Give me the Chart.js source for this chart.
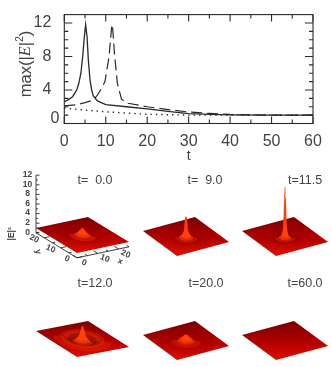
<!DOCTYPE html>
<html>
<head>
<meta charset="utf-8">
<script src="https://cdn.jsdelivr.net/npm/chart.js@4"></script>
<style>
    html, body { margin: 0; padding: 0; background: #fff; }
    canvas { position: absolute; filter: blur(0.35px); }
</style>
</head>
<body>
<canvas id="mainChart" width="332" height="165" style="left:0;top:0"></canvas>
<script>
// max(|E|^2) curves
const tSolid = [0, 1, 2, 3, 3.5, 4, 4.5, 4.8, 5.15, 5.5, 5.8, 6.2, 6.6, 7, 8, 10, 15, 20, 25, 30, 35, 40, 50, 60];
const solid = [2.6, 2.85, 3.2, 4.0, 4.8, 6.0, 8.3, 10.2, 11.8, 10.3, 7.6, 5.2, 4.0, 3.3, 2.7, 2.25, 2.0, 1.75, 1.45, 1.18, 1.08, 1.02, 1.0, 1.0];
const tDashed = [0, 3, 5, 7, 8, 9, 9.8, 10.8, 11.4, 11.6, 12.1, 12.8, 13.8, 15, 20, 25, 30, 35, 40, 50, 60];
const dashed = [2.1, 2.25, 2.5, 2.8, 3.4, 4.2, 5.0, 8.0, 11.4, 11.8, 8.4, 4.8, 2.9, 2.45, 2.0, 1.66, 1.37, 1.2, 1.08, 1.0, 1.0];
const tDotted = [0, 5, 10, 15, 20, 30, 40, 60];
const dotted = [1.85, 1.6, 1.4, 1.25, 1.1, 1.0, 1.0, 1.0];

const xTicks = [0, 10, 20, 30, 40, 50, 60];
const yTicks = [0, 4, 8, 12];

// surface snapshots: height of |E|^2 against distance from the centre of the grid
const times = ["t=  0.0", "t=  9.0", "t=11.5", "t=12.0", "t=20.0", "t=60.0"];
const radiusT0 = [10, 7, 5, 3, 2, 1.2, 0.6, 0.1];
const heightT0 = [1, 0.9, 0.85, 1.05, 1.35, 1.8, 2.2, 2.5];
const radiusT9 = [10, 6.5, 4.5, 3, 2, 1.3, 0.8, 0.6, 0.45, 0.3];
const heightT9 = [1, 0.9, 0.75, 0.85, 1.1, 1.6, 2.4, 3.5, 4.6, 5.1];
const radiusT11 = [10, 6, 4, 2.5, 1.6, 1.1, 0.8, 0.6, 0.5, 0.35, 0.15];
const heightT11 = [1, 0.9, 0.7, 0.8, 1.1, 1.8, 3, 4.8, 6.6, 9, 11.3];
const radiusT12 = [11, 8.5, 7, 5.5, 4, 3, 2, 1.4, 1, 0.6, 0.2];
const heightT12 = [1, 1.1, 1.15, 0.9, 0.6, 0.75, 1.1, 1.6, 2.2, 3, 3.7];
const radiusT20 = [12, 9, 6, 3.6, 2.6, 1.7, 1, 0.3];
const heightT20 = [1, 0.92, 0.9, 1, 1.2, 1.55, 1.95, 2.25];
const radiusT60 = [];
const heightT60 = [];

const gridTicks = [0, 10, 20];
const zTicks = [0, 2, 4, 6, 8, 10, 12];
const gridSize = 25;
const plateLevel = 1;

const ink = "#2a2a2a";
const textInk = "#444";
const pxPerZ = 4.8;

const viewA = { ux: 52, uy: 11, vx: -41, vy: 25 };
const viewA2 = { ux: 52, uy: 10, vx: -41, vy: 26 };
const viewB = { ux: 52, uy: 14, vx: -34, vy: 25 };

const panels = [
    { box: [0, 165, 140, 102], ox: 77, oy: 253, view: viewA, labelX: 95, labelY: 181, radius: radiusT0, height: heightT0, axes: true },
    { box: [140, 165, 96, 102], ox: 177, oy: 256, view: viewB, labelX: 205, labelY: 181, radius: radiusT9, height: heightT9 },
    { box: [236, 165, 96, 102], ox: 276, oy: 256, view: viewB, labelX: 305, labelY: 181, radius: radiusT11, height: heightT11 },
    { box: [0, 270, 140, 97], ox: 77, oy: 357, view: viewA2, labelX: 95, labelY: 284, radius: radiusT12, height: heightT12 },
    { box: [140, 270, 96, 97], ox: 177, oy: 360, view: viewB, labelX: 206, labelY: 284, radius: radiusT20, height: heightT20 },
    { box: [236, 270, 96, 97], ox: 276, oy: 360, view: viewB, labelX: 305, labelY: 284, radius: radiusT60, height: heightT60 }
];

function pairs(xs, ys) {
    return xs.map((x, i) => ({ x: x, y: ys[i] }));
}

// frame, inward ticks and the mixed-font y title of the top plot
const framePlugin = {
    id: "frame",
    afterDraw(chart) {
        const { ctx, chartArea: a, scales } = chart;
        ctx.save();
        ctx.strokeStyle = ink;
        ctx.lineWidth = 1.1;
        ctx.strokeRect(a.left, a.top, a.right - a.left, a.bottom - a.top);
        ctx.beginPath();
        for (let v = 0; v <= 60; v += 5) {
            const px = scales.x.getPixelForValue(v);
            const len = v % 10 === 0 ? 7 : 4;
            ctx.moveTo(px, a.bottom); ctx.lineTo(px, a.bottom - len);
            ctx.moveTo(px, a.top); ctx.lineTo(px, a.top + len);
        }
        for (let v = 1; v <= 12; v++) {
            const py = scales.y.getPixelForValue(v);
            const len = v % 4 === 0 ? 8 : 4;
            ctx.moveTo(a.left, py); ctx.lineTo(a.left + len, py);
            ctx.moveTo(a.right, py); ctx.lineTo(a.right - len, py);
        }
        ctx.stroke();

        // the zero label sits a little above the axis corner in the original
        ctx.fillStyle = textInk;
        ctx.font = "16px 'Liberation Sans'";
        ctx.textAlign = "right";
        ctx.textBaseline = "middle";
        ctx.fillText("0", a.left - 5, 118.5);

        ctx.textAlign = "center";
        ctx.font = "14px 'Liberation Sans'";
        ctx.fillText("t", scales.x.getPixelForValue(30), 156);

        ctx.translate(26, 64);
        ctx.rotate(-Math.PI / 2);
        const parts = [
            ["max(|", "16.5px 'Liberation Sans'", 0],
            ["E", "italic 16.5px 'Liberation Serif'", 0],
            ["|", "16.5px 'Liberation Sans'", 0],
            ["2", "10px 'Liberation Sans'", -6],
            [")", "16.5px 'Liberation Sans'", 0]
        ];
        let total = 0;
        parts.forEach(p => { ctx.font = p[1]; total += ctx.measureText(p[0]).width; });
        let x = -total / 2;
        ctx.textAlign = "left";
        parts.forEach(p => {
            ctx.font = p[1];
            ctx.fillText(p[0], x, p[2]);
            x += ctx.measureText(p[0]).width;
        });
        ctx.restore();
    }
};

new Chart(document.getElementById("mainChart"), {
    type: "scatter",
    data: {
        datasets: [
            { data: pairs(tSolid, solid), borderColor: ink, borderWidth: 1.3 },
            { data: pairs(tDashed, dashed), borderColor: ink, borderWidth: 1.2, borderDash: [11, 5] },
            { data: pairs(tDotted, dotted), borderColor: ink, borderWidth: 1.4, borderDash: [1.4, 4] }
        ].map(d => Object.assign(d, { showLine: true, pointRadius: 0, tension: 0, clip: false }))
    },
    options: {
        responsive: false,
        animation: false,
        layout: { padding: { top: 5, right: 19, left: 0, bottom: 0 } },
        plugins: {
            legend: { display: false },
            tooltip: { enabled: false }
        },
        scales: {
            x: {
                type: "linear",
                min: 0,
                max: 60,
                afterFit(scale) { scale.height = 41.5; },
                afterBuildTicks(scale) { scale.ticks = xTicks.map(v => ({ value: v })); },
                grid: { display: false },
                border: { display: false },
                ticks: { color: textInk, font: { family: "'Liberation Sans'", size: 16 }, padding: 0, maxRotation: 0 }
            },
            y: {
                type: "linear",
                min: 0,
                max: 13,
                afterFit(scale) { scale.width = 64.3; },
                afterBuildTicks(scale) { scale.ticks = yTicks.map(v => ({ value: v })); },
                grid: { display: false },
                border: { display: false },
                ticks: {
                    color: textInk,
                    font: { family: "'Liberation Sans'", size: 16 },
                    padding: 5,
                    callback: v => (v === 0 ? "" : String(v))
                }
            }
        }
    },
    plugins: [framePlugin]
});

// Grid position to chart values: x scale is in page pixels, y scale is in |E|^2 units
function project(panel, u, v, z) {
    const w = panel.view;
    return {
        x: panel.ox - panel.box[0] + (u * w.ux + v * w.vx) / gridSize,
        y: z + (u * w.uy + v * w.vy) / gridSize / pxPerZ
    };
}

function plateGradient(panel, ctx) {
    const bottom = panel.oy - panel.box[1];
    const top = bottom - panel.view.uy - panel.view.vy;
    const g = ctx.createLinearGradient(0, top, 0, bottom);
    g.addColorStop(0, "#7c0000");
    g.addColorStop(0.5, "#ad0000");
    g.addColorStop(1, "#de0e00");
    return g;
}

// steep rising ground catches the light, falling ground goes dark
function slopeColor(slope) {
    if (slope >= 0) {
        const a = Math.min(1, 0.18 + slope * 1.5);
        return "rgba(255,64,8," + a + ")";
    }
    return "rgba(95,0,0," + Math.min(0.7, -slope * 2.2) + ")";
}

// one ring of the surface: front half of the outer circle, back half of the inner one
function frustum(panel, r0, z0, r1, z1) {
    const w = panel.view;
    const t0 = Math.atan2(w.vx, w.ux);
    const mid = t0 + Math.PI / 2;
    const backFirst = w.uy * Math.cos(mid) + w.vy * Math.sin(mid) > 0;
    const start = backFirst ? t0 + Math.PI : t0;
    const pts = [];
    const c = gridSize / 2;
    for (let k = 0; k <= 14; k++) {
        const a = start + Math.PI * k / 14;
        pts.push(project(panel, c + r0 * Math.cos(a), c + r0 * Math.sin(a), z0));
    }
    for (let k = 0; k <= 14; k++) {
        const a = start + Math.PI + Math.PI * k / 14;
        pts.push(project(panel, c + r1 * Math.cos(a), c + r1 * Math.sin(a), z1));
    }
    return pts;
}

const axesPlugin = {
    id: "axes3d",
    afterDraw(chart, args, opts) {
        const panel = opts.panel;
        const { ctx, scales } = chart;
        const at = (u, v, z) => {
            const p = project(panel, u, v, z);
            return [scales.x.getPixelForValue(p.x), scales.y.getPixelForValue(p.y)];
        };
        const line = (a, b) => { ctx.moveTo(a[0], a[1]); ctx.lineTo(b[0], b[1]); };

        ctx.save();
        ctx.strokeStyle = ink;
        ctx.fillStyle = textInk;
        ctx.lineWidth = 0.9;
        ctx.beginPath();
        line(at(0, gridSize, 0), at(0, gridSize, 12));
        line(at(0, gridSize, 0), at(0, 0, 0));
        line(at(0, 0, 0), at(gridSize, 0, 0));
        for (let z = 0; z <= 12; z++) {
            const p = at(0, gridSize, z);
            line(p, [p[0] + (z % 2 === 0 ? 3.5 : 2), p[1]]);
        }
        for (let g = 0; g <= gridSize; g += 5) {
            const len = g % 10 === 0 ? 2.6 : 1.4;
            line(at(g, 0, 0), at(g, len, 0));
            line(at(0, g, 0), at(len, g, 0));
        }
        ctx.stroke();

        ctx.font = "bold 8.5px 'Liberation Sans'";
        ctx.textAlign = "center";
        ctx.textBaseline = "middle";
        zTicks.forEach(z => {
            const p = at(0, gridSize, z);
            ctx.fillText(String(z), p[0] - 8.5, p[1] + (z === 0 ? 0 : -0.5));
        });
        const slanted = (text, x, y, angle) => {
            ctx.save();
            ctx.translate(x, y);
            ctx.rotate(angle);
            ctx.fillText(text, 0, 0);
            ctx.restore();
        };
        gridTicks.forEach(g => {
            const a = at(g, 0, 0);
            slanted(String(g), a[0] + 7, a[1] + 5, 0.4);
            const b = at(0, g, 0);
            slanted(String(g), b[0] - 10, b[1] + 1, 0.4);
        });
        const mu = at(17, 0, 0);
        slanted("x", mu[0] + 8, mu[1] + 11, 0.4);
        const mv = at(0, 14, 0);
        slanted("y", mv[0] - 16, mv[1] + 8, 1.35);
        slanted("|E|²", 12, scales.y.getPixelForValue(5) , -Math.PI / 2);
        ctx.restore();
    }
};

const timePlugin = {
    id: "timeLabel",
    afterDraw(chart, args, opts) {
        const panel = opts.panel;
        const ctx = chart.ctx;
        ctx.save();
        ctx.fillStyle = textInk;
        ctx.font = "12.5px 'Liberation Sans'";
        ctx.textAlign = "center";
        ctx.textBaseline = "middle";
        ctx.fillText(opts.text, panel.labelX - panel.box[0], panel.labelY - panel.box[1]);
        ctx.restore();
    }
};

panels.forEach((panel, idx) => {
    const [left, top, width, height] = panel.box;
    const canvas = document.createElement("canvas");
    canvas.width = width;
    canvas.height = height;
    canvas.style.left = left + "px";
    canvas.style.top = top + "px";
    document.body.appendChild(canvas);

    const corners = [[0, 0], [gridSize, 0], [gridSize, gridSize], [0, gridSize]];
    const datasets = [{
        data: corners.map(c => project(panel, c[0], c[1], plateLevel)),
        backgroundColor: plateGradient(panel, canvas.getContext("2d")),
        order: 100
    }];
    for (let i = 0; i + 1 < panel.radius.length; i++) {
        const slope = (panel.height[i + 1] - panel.height[i]) / (panel.radius[i] - panel.radius[i + 1]);
        datasets.push({
            data: frustum(panel, panel.radius[i], panel.height[i], panel.radius[i + 1], panel.height[i + 1]),
            backgroundColor: slopeColor(slope),
            order: 99 - i
        });
    }
    datasets.forEach(d => Object.assign(d, {
        showLine: true, fill: "shape", pointRadius: 0, borderWidth: 0, tension: 0, clip: false
    }));

    // z = 0 lies one plate level below the bottom corner of the grid
    const zeroY = panel.oy + plateLevel * pxPerZ;
    new Chart(canvas, {
        type: "scatter",
        data: { datasets: datasets },
        options: {
            responsive: false,
            animation: false,
            layout: { padding: 0 },
            plugins: {
                legend: { display: false },
                tooltip: { enabled: false },
                timeLabel: { panel: panel, text: times[idx] },
                axes3d: { panel: panel }
            },
            scales: {
                x: { type: "linear", display: false, min: 0, max: width },
                y: {
                    type: "linear",
                    display: false,
                    min: -(top + height - zeroY) / pxPerZ,
                    max: (zeroY - top) / pxPerZ
                }
            }
        },
        plugins: panel.axes ? [timePlugin, axesPlugin] : [timePlugin]
    });
});
</script>
</body>
</html>
